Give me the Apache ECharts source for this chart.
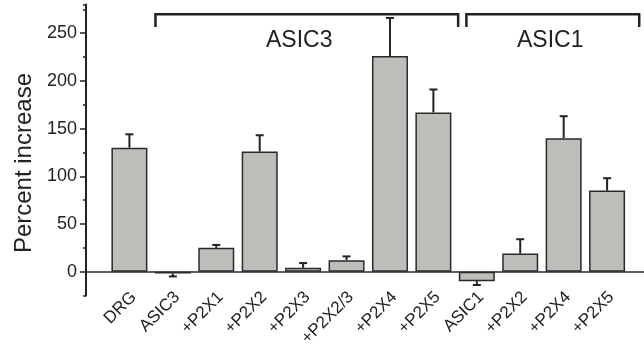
<!DOCTYPE html>
<html>
<head>
<meta charset="utf-8">
<script src="https://cdn.jsdelivr.net/npm/echarts@6/dist/echarts.min.js"></script>
<style>
  html, body { margin: 0; padding: 0; background: #fff; }
  #chart { width: 644px; height: 346px; }
</style>
</head>
<body>
<div id="chart"></div>
<script>
// Conditions along the x axis
const categories = ['DRG', 'ASIC3', '+P2X1', '+P2X2', '+P2X3', '+P2X2/3', '+P2X4', '+P2X5',
                    'ASIC1', '+P2X2', '+P2X4', '+P2X5'];
// Mean percent increase and its error (SEM)
const means  = [130, -2, 25, 126, 4, 12, 226, 167, -10, 19, 140, 85];
const errors = [14, 3, 3, 17, 5, 4, 40, 24, 4, 15, 23, 13];
// Y tick labels
const yTicks = [0, 50, 100, 150, 200, 250];
// Group labels drawn above the brackets
const groupLabels = ['ASIC3', 'ASIC1'];

const FONT = '"Liberation Sans", Arial, Helvetica, sans-serif';
const INK = '#222';

// x range of the plot, in bar-index units
const X_MIN = -1, X_MAX = 11.85;
// rotated tick labels end slightly right of each bar centre
const LABEL_SHIFT = 0.1;

// bracket geometry in axis units: [left x, right x, label x]
const bracketLayout = [
  [0.60, 7.57, 3.91],
  [7.76, 11.74, 9.69]
];
const BRACKET_TOP = 270, BRACKET_TIP = 256.5, LABEL_Y = 242.5;

const chart = echarts.init(document.getElementById('chart'), null, { renderer: 'canvas' });

const barData = means.map((v, i) => [i, v]);
const errData = means.map((v, i) => [i, v, errors[i]]);
const labelPositions = categories.map((_, i) => i);

const option = {
  animation: false,
  backgroundColor: '#fff',
  grid: {
    left: 86, right: 0, top: 4.6, bottom: 50.5,
    containLabel: false,
    outerBoundsMode: 'none'
  },
  xAxis: [
    {
      // scale used by the bars, error bars and brackets
      type: 'value',
      min: X_MIN,
      max: X_MAX,
      interval: 1,
      splitLine: { show: false },
      axisLine: { show: false, onZero: false },
      axisTick: { show: false },
      axisLabel: { show: false }
    },
    {
      // category names under the bars
      type: 'value',
      position: 'bottom',
      min: X_MIN - LABEL_SHIFT,
      max: X_MAX - LABEL_SHIFT,
      splitLine: { show: false },
      axisLine: { show: false, onZero: false },
      axisTick: { show: false },
      axisLabel: {
        customValues: labelPositions,
        rotate: 45,
        margin: -1,
        fontSize: 17,
        fontFamily: FONT,
        color: INK,
        hideOverlap: false,
        formatter: v => {
          const i = Math.round(v);
          return (i >= 0 && i < categories.length) ? categories[i] : '';
        }
      }
    }
  ],
  yAxis: [
    {
      type: 'value',
      min: -25,
      max: 280,
      interval: 25,
      name: 'Percent increase',
      nameLocation: 'middle',
      nameRotate: 90,
      nameGap: 48,
      nameTextStyle: { fontSize: 24, fontFamily: FONT, color: INK, padding: [0, 26, 0, 0] },
      splitLine: { show: false },
      axisLine: { show: true, onZero: false, lineStyle: { color: INK, width: 2 } },
      axisTick: { show: true, length: 3, lineStyle: { color: INK, width: 1.5 } },
      axisLabel: {
        margin: 9,
        fontSize: 18,
        fontFamily: FONT,
        color: INK,
        formatter: v => (yTicks.indexOf(v) >= 0 ? String(v) : '')
      }
    },
    {
      type: 'value',
      position: 'left',
      min: -25,
      max: 280,
      interval: 25,
      splitLine: { show: false },
      axisLine: { show: false, onZero: false },
      axisLabel: { show: false },
      axisTick: {
        show: true,
        length: 6,
        customValues: yTicks,
        lineStyle: { color: INK, width: 1.5 }
      }
    }
  ],
  series: [
    {
      type: 'bar',
      data: barData,
      barWidth: 36,
      itemStyle: { color: '#bfbdb9', borderColor: '#2a2a2a', borderWidth: 1.5 },
      markLine: {
        silent: true,
        symbol: 'none',
        label: { show: false },
        lineStyle: { color: '#2a2a2a', width: 1.5, type: 'solid' },
        data: [{ yAxis: 0 }]
      },
      z: 2
    },
    {
      // error bars: stem from the bar end plus a short cap
      type: 'custom',
      data: errData,
      z: 3,
      renderItem: (params, api) => {
        const x = api.value(0), v = api.value(1), e = api.value(2);
        const dir = v < 0 ? -1 : 1;
        const p0 = api.coord([x, v]);
        const p1 = api.coord([x, v + dir * e]);
        const cap = 4;
        const style = { stroke: INK, lineWidth: 2 };
        return {
          type: 'group',
          children: [
            { type: 'line', shape: { x1: p0[0], y1: p0[1], x2: p1[0], y2: p1[1] }, style },
            { type: 'line', shape: { x1: p1[0] - cap, y1: p1[1], x2: p1[0] + cap, y2: p1[1] }, style }
          ]
        };
      }
    },
    {
      // group brackets with their labels
      type: 'custom',
      data: groupLabels.map((_, i) => [i]),
      z: 4,
      renderItem: (params, api) => {
        const i = params.dataIndex;
        const [xl, xr, xt] = bracketLayout[i];
        const a = api.coord([xl, BRACKET_TIP]);
        const b = api.coord([xl, BRACKET_TOP]);
        const c = api.coord([xr, BRACKET_TOP]);
        const d = api.coord([xr, BRACKET_TIP]);
        const t = api.coord([xt, LABEL_Y]);
        return {
          type: 'group',
          children: [
            {
              type: 'polyline',
              shape: { points: [a, b, c, d] },
              style: { stroke: INK, lineWidth: 2.5, fill: null }
            },
            {
              type: 'text',
              x: t[0], y: t[1],
              style: {
                text: groupLabels[i],
                fontSize: 23,
                fontFamily: FONT,
                fill: INK,
                align: 'center',
                verticalAlign: 'middle'
              }
            }
          ]
        };
      }
    }
  ]
};

chart.setOption(option);
</script>
</body>
</html>
